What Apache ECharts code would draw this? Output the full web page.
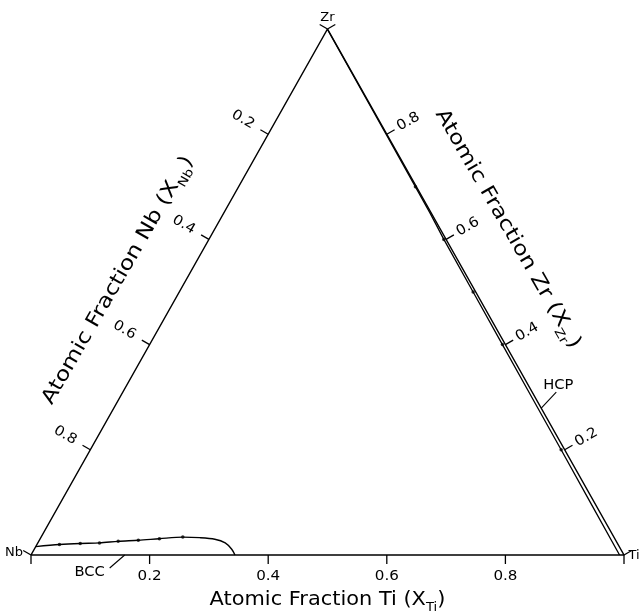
<!DOCTYPE html>
<html>
<head>
<meta charset="utf-8">
<script src="https://cdn.jsdelivr.net/npm/echarts@6/dist/echarts.min.js"></script>
<style>
  html, body { margin: 0; padding: 0; background: #fff; }
  #chart { width: 641px; height: 614px; }
</style>
</head>
<body>
<div id="chart"></div>
<script>
// Tick positions shared by the three edges (mole fraction of the edge's element)
const tickValues = [0, 0.2, 0.4, 0.6, 0.8, 1];
const tickLabels = ['', '0.2', '0.4', '0.6', '0.8', ''];

// BCC phase boundary near the Nb–Ti edge
const bccTi = [0.000, 0.038, 0.072, 0.104, 0.134, 0.167, 0.201, 0.239, 0.268, 0.295, 0.316, 0.333, 0.344];
const bccZr = [0.016, 0.020, 0.022, 0.023, 0.026, 0.028, 0.031, 0.034, 0.033, 0.030, 0.023, 0.011, 0.000];
// Measured compositions on the BCC boundary
const bccDotTi = [0.038, 0.072, 0.104, 0.134, 0.167, 0.201, 0.239];
const bccDotZr = [0.020, 0.022, 0.023, 0.026, 0.028, 0.031, 0.034];

// HCP phase boundary running along the Zr–Ti edge
const hcpZr = [1.00, 0.80, 0.65, 0.60, 0.50, 0.40, 0.30, 0.20, 0.10, 0.00];
const hcpNb = [0.0005, 0.0012, 0.0020, 0.0038, 0.0044, 0.0050, 0.0055, 0.0060, 0.0068, 0.0075];
// Measured compositions on the HCP boundary
const hcpDotZr = [0.70, 0.60, 0.50, 0.40, 0.20];
const hcpDotNb = [0.0017, 0.0038, 0.0044, 0.0050, 0.0060];

const INK = '#000';
const FONT = '"DejaVu Sans", "Liberation Sans", sans-serif';
const C30 = Math.cos(Math.PI / 6), S30 = Math.sin(Math.PI / 6);

// ternary (Ti, Zr) -> cartesian, Nb at origin, Ti at (1,0), Zr at apex
function toXY(ti, zr) { return [ti + zr / 2, zr]; }

// The three edges: where a tick value sits, outward normal (screen px), label placement
const sides = [
  { point: t => toXY(t, 0),     normal: [0, 1],       labelGap: 21, rot: 0 },             // Ti
  { point: t => toXY(0, 1 - t), normal: [-C30, -S30], labelGap: 29, rot: -Math.PI / 6 },  // Nb
  { point: t => toXY(1 - t, t), normal: [C30, -S30],  labelGap: 25, rot: Math.PI / 6 }    // Zr
];

function tickSeries(side) {
  return {
    type: 'custom', coordinateSystem: 'cartesian2d', clip: false, silent: true, z: 5,
    data: tickValues,
    renderItem(params, api) {
      const i = params.dataIndex;
      const p = api.coord(side.point(tickValues[i]));
      const n = side.normal;
      const len = 9;
      const children = [{
        type: 'line',
        shape: { x1: p[0], y1: p[1], x2: p[0] + n[0] * len, y2: p[1] + n[1] * len },
        style: { stroke: INK, lineWidth: 1.3 }
      }];
      if (tickLabels[i]) {
        children.push({
          type: 'text',
          x: p[0] + n[0] * side.labelGap, y: p[1] + n[1] * side.labelGap,
          rotation: side.rot, scaleX: 1.08,
          style: { text: tickLabels[i], fill: INK, font: '14px ' + FONT, align: 'center', verticalAlign: 'middle' }
        });
      }
      return { type: 'group', children };
    }
  };
}

// Text annotations: anchor in ternary coordinates, offset in pixels
const subRich = { s: { fontSize: 12, fontFamily: FONT, fill: INK, verticalAlign: 'bottom', lineHeight: 28 } };
const annotations = [
  { anchor: toXY(0.5, 0), dx: 0, dy: 45, rot: 0, size: 19, sx: 1.1, text: 'Atomic Fraction Ti (X{s|Ti})' },
  { anchor: toXY(0, 0.466), dx: -59 * C30, dy: -59 * S30, rot: Math.PI / 3, size: 20, sx: 1.17, text: 'Atomic Fraction Nb (X{s|Nb})' },
  { anchor: toXY(1 - 0.564, 0.564), dx: 59 * C30, dy: -59 * S30, rot: -Math.PI / 3, size: 20, sx: 1.17, text: 'Atomic Fraction Zr (X{s|Zr})' },
  { anchor: toXY(0, 1), dx: 0, dy: -11, rot: 0, size: 13, sx: 1, text: 'Zr' },
  { anchor: toXY(0, 0), dx: -17, dy: -2, rot: 0, size: 13, sx: 1, text: 'Nb' },
  { anchor: toXY(1, 0), dx: 10, dy: 1, rot: 0, size: 13, sx: 1, text: 'Ti' },
  { anchor: toXY(0.158, 0), dx: -35, dy: 17, rot: 0, size: 14, sx: 1.05, text: 'BCC', lead: [-15, 13] },
  { anchor: toXY(1 - 0.279, 0.279), dx: 17, dy: -23, rot: 0, size: 14, sx: 1.05, text: 'HCP', lead: [15, -16] }
];

const annotationSeries = {
  type: 'custom', coordinateSystem: 'cartesian2d', clip: false, silent: true, z: 6,
  data: annotations.map((a, i) => i),
  renderItem(params, api) {
    const a = annotations[params.dataIndex];
    const p = api.coord(a.anchor);
    const children = [{
      type: 'text', x: p[0] + a.dx, y: p[1] + a.dy, rotation: a.rot, scaleX: a.sx,
      style: {
        text: a.text, fill: INK, font: a.size + 'px ' + FONT,
        align: 'center', verticalAlign: 'middle', rich: subRich
      }
    }];
    if (a.lead) {
      children.push({
        type: 'line',
        shape: { x1: p[0], y1: p[1], x2: p[0] + a.lead[0], y2: p[1] + a.lead[1] },
        style: { stroke: INK, lineWidth: 1.1 }
      });
    }
    return { type: 'group', children };
  }
};

const triangle = [toXY(0, 0), toXY(1, 0), toXY(0, 1), toXY(0, 0)];
const bccLine = bccTi.map((t, i) => toXY(t, bccZr[i]));
const bccDots = bccDotTi.map((t, i) => toXY(t, bccDotZr[i]));
const hcpLine = hcpZr.map((z, i) => toXY(1 - z - hcpNb[i], z));
const hcpDots = hcpDotZr.map((z, i) => toXY(1 - z - hcpDotNb[i], z));

const chart = echarts.init(document.getElementById('chart'), null, { renderer: 'canvas' });
chart.setOption({
  animation: false,
  backgroundColor: '#fff',
  grid: { left: 31, right: 17, top: 29, bottom: 59 },
  xAxis: { type: 'value', min: 0, max: 1, show: false },
  yAxis: { type: 'value', min: 0, max: 1, show: false },
  series: [
    { type: 'line', data: triangle, symbol: 'none', silent: true, clip: false,
      lineStyle: { color: INK, width: 1.5 } },
    { type: 'line', data: bccLine, symbol: 'none', smooth: 0.3, silent: true, clip: false,
      lineStyle: { color: INK, width: 1.4 } },
    { type: 'scatter', data: bccDots, symbol: 'circle', symbolSize: 3.5, silent: true, clip: false,
      itemStyle: { color: INK } },
    { type: 'line', data: hcpLine, symbol: 'none', silent: true, clip: false,
      lineStyle: { color: INK, width: 1.3 } },
    { type: 'scatter', data: hcpDots, symbol: 'circle', symbolSize: 3.5, silent: true, clip: false,
      itemStyle: { color: INK } },
    tickSeries(sides[0]),
    tickSeries(sides[1]),
    tickSeries(sides[2]),
    annotationSeries
  ]
});
</script>
</body>
</html>
